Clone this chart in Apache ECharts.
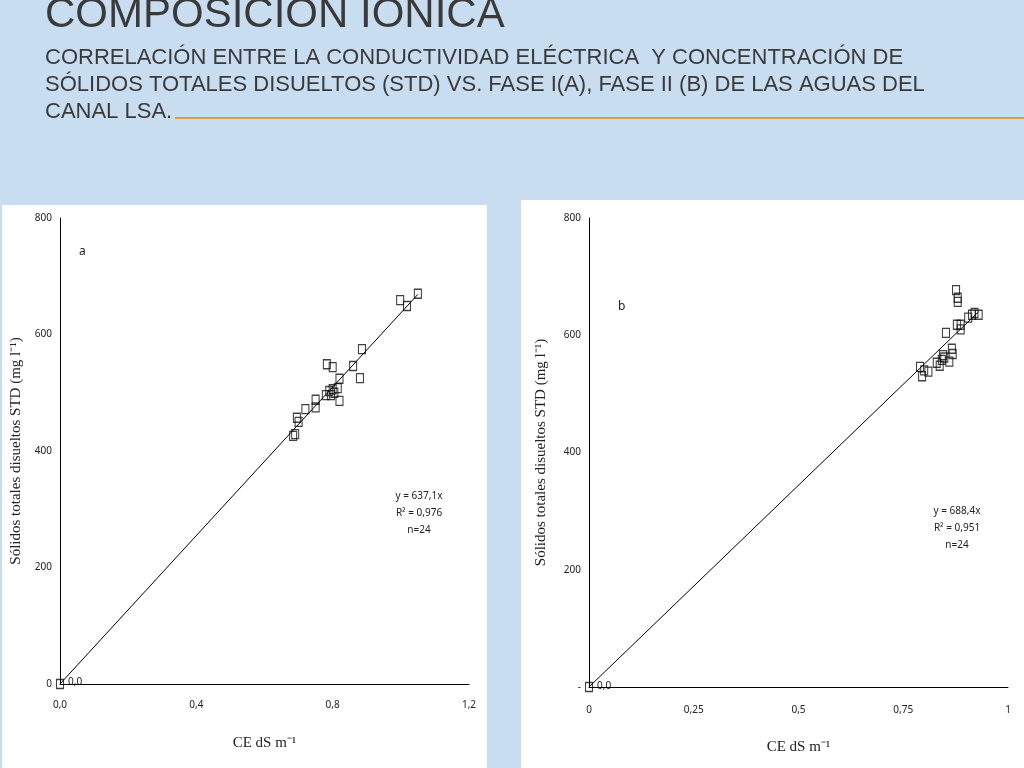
<!DOCTYPE html><html><head><meta charset="utf-8"><script src="https://cdn.jsdelivr.net/npm/echarts@6/dist/echarts.min.js"></script>
<style>body{margin:0;background:#c9ddf0}#c{width:1024px;height:768px}</style></head><body><div id="c"></div><script>
const xA=[1.05,0.998,1.018,0.886,0.86,0.88,0.82,0.783,0.80,0.82,0.80,0.79,0.795,0.78,0.75,0.75,0.72,0.695,0.70,0.69,0.684,0.805,0.815,0];
const yA=[670,659,649,575,546,525,524,549,544,486,506,503,496,496,488,475,472,457,450,429,426,500,508,0];
const xB=[0.876,0.88,0.88,0.878,0.887,0.887,0.914,0.92,0.93,0.905,0.852,0.866,0.868,0.86,0.848,0.842,0.845,0.83,0.837,0.79,0.80,0.795,0.81,0];
const yB=[677,664,657,618,618,610,635,638,635,630,604,577,568,555,562,558,566,553,548,546,540,530,538,0];
const slopeA=637.1, slopeB=688.4;
const ptsA=xA.map((v,i)=>[v,yA[i]]), ptsB=xB.map((v,i)=>[v,yB[i]]);
const ch=echarts.init(document.getElementById('c'));
const F='Noto Sans';
const ax={axisLine:{show:true,lineStyle:{color:'#000'}},axisTick:{show:false},splitLine:{show:false},axisLabel:{color:'#222',fontSize:10,fontFamily:F}};
const tstyle={fill:'#3a3a3a',fontFamily:'Liberation Sans',fontWeight:'normal'};
const nm={fontFamily:'Liberation Serif',fontSize:15,color:'#222'};
ch.setOption({
graphic:[
{type:'rect',shape:{x:2,y:205,width:485,height:563},style:{fill:'#fff'}},
{type:'rect',shape:{x:521,y:200,width:503,height:568},style:{fill:'#fff'}},
{type:'line',shape:{x1:175,y1:118,x2:1024,y2:118},style:{stroke:'#d9a040',lineWidth:2}},
{type:'text',left:45,top:-6,style:Object.assign({text:'COMPOSICIÓN IÓNICA',fontSize:42},tstyle)},
{type:'text',left:45,top:44,style:Object.assign({text:'CORRELACIÓN ENTRE LA CONDUCTIVIDAD ELÉCTRICA  Y CONCENTRACIÓN DE\nSÓLIDOS TOTALES DISUELTOS (STD) VS. FASE I(A), FASE II (B) DE LAS AGUAS DEL\nCANAL LSA.',fontSize:22,lineHeight:27},tstyle)},
{type:'text',left:79,top:246,style:{text:'a',fontSize:12,fill:'#222',fontFamily:F}},
{type:'text',left:618,top:301,style:{text:'b',fontSize:12,fill:'#222',fontFamily:F}},
{type:'text',left:68,top:677,style:{text:'0,0',fontSize:10,fill:'#222',fontFamily:F}},
{type:'text',left:597,top:681,style:{text:'0,0',fontSize:10,fill:'#222',fontFamily:F}},
{type:'text',x:419,y:488,style:{text:'y = 637,1x\nR² = 0,976\nn=24',fontSize:10,lineHeight:17,align:'center',fill:'#222',fontFamily:F}},
{type:'text',x:957,y:503,style:{text:'y = 688,4x\nR² = 0,951\nn=24',fontSize:10,lineHeight:17,align:'center',fill:'#222',fontFamily:F}}
],
grid:[{left:60,top:218,width:409,height:466},{left:589,top:218,width:419,height:469}],
xAxis:[Object.assign({},ax,{gridIndex:0,min:0,max:1.2,interval:0.4,name:'CE dS m⁻¹',nameLocation:'middle',nameGap:52,nameTextStyle:nm,axisLabel:Object.assign({},ax.axisLabel,{margin:16,formatter:v=>v.toFixed(1).replace('.',',')})}),
Object.assign({},ax,{gridIndex:1,min:0,max:1,interval:0.25,name:'CE dS m⁻¹',nameLocation:'middle',nameGap:53,nameTextStyle:nm,axisLabel:Object.assign({},ax.axisLabel,{margin:18,formatter:v=>v===0||v===1?String(v):String(v).replace('.',',')})})],
yAxis:[Object.assign({},ax,{gridIndex:0,min:0,max:800,interval:200,name:'Sólidos totales disueltos STD (mg l⁻¹)',nameLocation:'middle',nameGap:36,nameTextStyle:nm}),
Object.assign({},ax,{gridIndex:1,min:0,max:800,interval:200,name:'Sólidos totales disueltos STD (mg l⁻¹)',nameLocation:'middle',nameGap:40,nameTextStyle:nm,axisLabel:Object.assign({},ax.axisLabel,{formatter:v=>v===0?'-':v})})],
series:[
{type:'line',xAxisIndex:0,yAxisIndex:0,data:[[0,0],[1.05,slopeA*1.05]],symbol:'none',lineStyle:{color:'#000',width:1},silent:true},
{type:'scatter',xAxisIndex:0,yAxisIndex:0,data:ptsA,symbol:'rect',symbolSize:[7,9],itemStyle:{color:'rgba(255,255,255,0)',borderColor:'#111',borderWidth:1.2}},
{type:'line',xAxisIndex:1,yAxisIndex:1,data:[[0,0],[0.93,slopeB*0.93]],symbol:'none',lineStyle:{color:'#000',width:1},silent:true},
{type:'scatter',xAxisIndex:1,yAxisIndex:1,data:ptsB,symbol:'rect',symbolSize:[7,9],itemStyle:{color:'rgba(255,255,255,0)',borderColor:'#111',borderWidth:1.2}}
]});
</script></body></html>
